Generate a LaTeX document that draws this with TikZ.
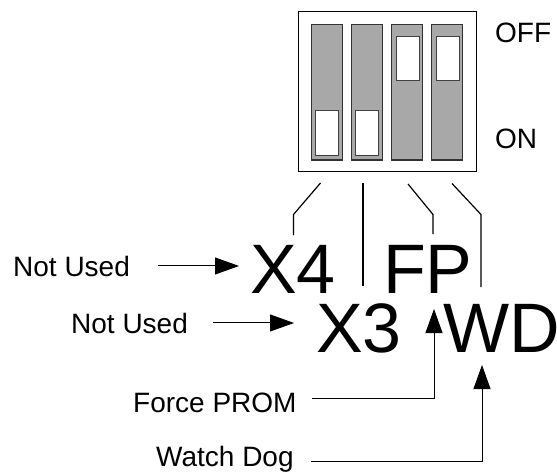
\documentclass[tikz,border=0pt]{standalone}
\usepackage{fontspec}
\setmainfont{Liberation Sans}
\usetikzlibrary{arrows.meta}
\definecolor{swgray}{RGB}{168,168,168}

\begin{document}
\begin{tikzpicture}[x=1pt,y=-1pt,line join=miter,
  small/.style={font=\fontsize{28}{30}\selectfont,inner sep=0pt,anchor=base west},
  big/.style={font=\fontsize{70}{72}\selectfont,inner sep=0pt,anchor=base west},
  arr/.style={-{Triangle[length=24pt,width=17pt]},line width=1pt},
  lead/.style={line width=1.2pt},
  slot/.style={draw=black!80,fill=swgray,line width=1.1pt},
  knob/.style={draw=black!75,fill=white,line width=0.9pt}]
\useasboundingbox (0,0) rectangle (557,476);
\draw[line width=0.8pt,fill=white] (298.5,11) rectangle (476,171.5);
\foreach \i in {0,1,2,3}
  \draw[slot] (311.5+40*\i,24.5) rectangle (342.5+40*\i,160);
\draw[knob] (315,110.5) rectangle (338,155.5);
\draw[knob] (355,110.5) rectangle (378,155.5);
\draw[knob] (396,36) rectangle (419,80.5);
\draw[knob] (436,36) rectangle (459,80.5);
\node[small] (off) at (495,43) {OFF};
\node[small] (on) at (495,149) {ON};
\draw[lead] (320.5,183) -- (293.5,214.5) -- (293.5,235);
\draw[lead] (363,183) -- (363,286);
\draw[lead] (408,184) -- (433,214.5) -- (433,234);
\draw[lead] (452,183.5) -- (481,214.5) -- (481,287);
\node[big] (x4) at (250,293) {X4};
\node[big] (fp) at (383,293) {FP};
\node[big] (x3) at (316,352) {X3};
\node[big] (wd) at (443,352) {WD};
\node[small] (nu1) at (13,276) {Not Used};
\node[small] (nu2) at (71,333) {Not Used};
\node[small] (fprom) at (133,412.5) {Force PROM};
\node[small] (wdog) at (156,466) {Watch Dog};
\coordinate (fpbend) at (434,398.5);
\coordinate (fptip) at (434,309);
\coordinate (wdbend) at (482,461);
\coordinate (wdtip) at (482,365);
\draw[arr] ([xshift=28pt]nu1.east) -- ([xshift=-11pt]nu1.east -| x4.west);
\draw[arr] ([xshift=25pt]nu2.east) -- ([xshift=-22pt]nu2.east -| x3.west);
\draw[arr] ([xshift=15pt]fprom.east |- fpbend) -- (fpbend) -- (fptip);
\draw[arr] ([xshift=17pt]wdog.east |- wdbend) -- (wdbend) -- (wdtip);
\end{tikzpicture}
\end{document}
